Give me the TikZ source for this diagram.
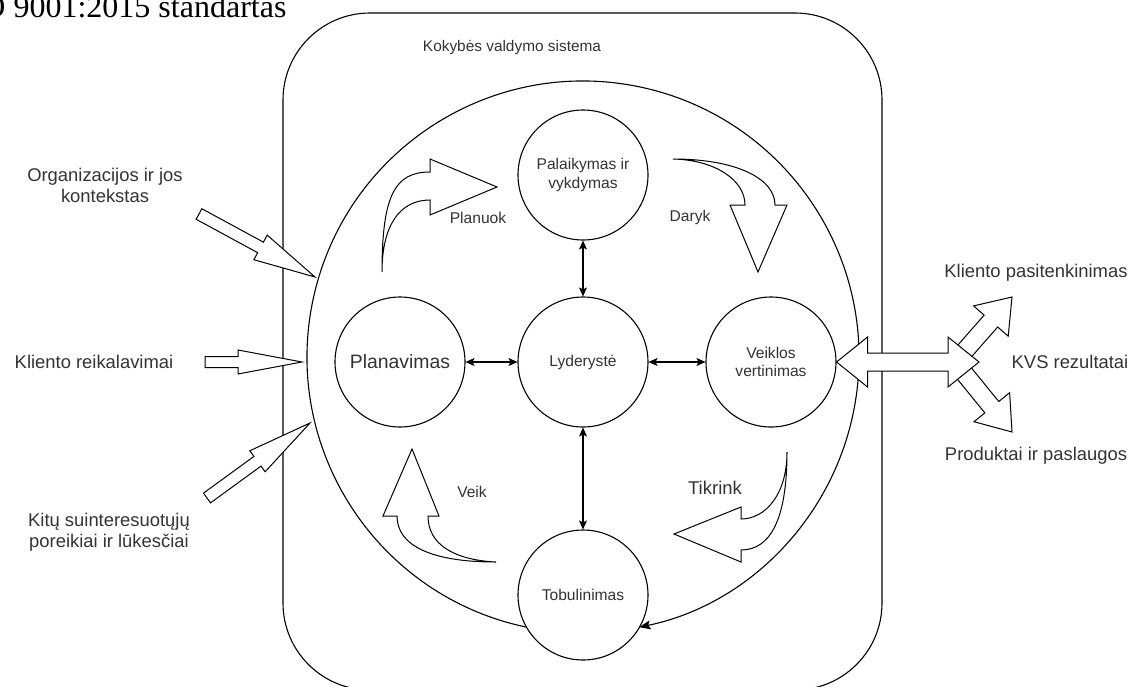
\documentclass[tikz,border=0pt]{standalone}
\usepackage{fontspec}
\setmainfont{Liberation Sans}
\newfontfamily\serifont{Liberation Serif}
\usetikzlibrary{calc,arrows.meta}
\definecolor{txt}{HTML}{333333}
\newcommand\fs[1]{\fontsize{#1}{#1}\selectfont}
% straight block arrow: tail, tip, half shaft width, half head width, head length
\newcommand\blockarrow[5]{%
  \coordinate (ba-b) at ($(#2)!#5!(#1)$);
  \draw[blk] ($(#1)!#3!90:(#2)$) -- ($(ba-b)!#3!90:(#2)$) -- ($(ba-b)!#4!90:(#2)$) -- (#2)
    -- ($(ba-b)!#4!-90:(#2)$) -- ($(ba-b)!#3!-90:(#2)$) -- ($(#1)!#3!-90:(#2)$) -- cycle;}
\begin{document}
\begin{tikzpicture}[x=1pt,y=-1pt,line width=1.1pt,
  circ/.style={circle,draw,minimum size=130pt,inner sep=0pt,text=txt,align=center,font=\fs{15.6}},
  lbl/.style={text=txt,align=center,inner sep=0pt},
  conn/.style={{Stealth[length=9pt,width=8pt,inset=2pt]}-{Stealth[length=9pt,width=8pt,inset=2pt]}},
  blk/.style={draw,fill=white,line join=miter,line width=1pt}]
\useasboundingbox (0,0) rectangle (1136,686);
\clip (0,0) rectangle (1136,686);

% title fragment
\node[anchor=base east,inner sep=0pt,font=\serifont\fontsize{32}{36}\selectfont] (title) at (287,17) {ISO 9001:2015 standartas};

% outer system box
\draw[rounded corners=87pt] (283,13) rectangle (882,690);
\node[lbl,font=\fs{15.4}] (kvs) at (512,48) {Kokybės valdymo sistema};

% process circles
\node[circ] (pal) at (583,175) {Palaikymas ir\\[3pt]vykdymas};
\node[circ] (lyd) at (583,362) {Lyderystė};
\node[circ,font=\fs{19.4}] (plan) at (400,362) {Planavimas};
\node[circ] (veik) at (771,362) {Veiklos\\[3pt]vertinimas};
\node[circ] (tob) at (583,595) {Tobulinimas};

% big cycle circle
\coordinate (bc) at (583,357);
\draw[-{Stealth[length=11pt,width=9pt,inset=2pt]}] ($(bc)+(101.8:276)$) arc[start angle=101.8,end angle=438.2,radius=276];

% leadership connections
\draw[conn] (pal) -- (lyd);
\draw[conn] (plan) -- (lyd);
\draw[conn] (lyd) -- (veik);
\draw[conn] (lyd) -- (tob);

% curved PDCA arrows
\coordinate (pl) at (382,272);
\draw[blk] (pl) .. controls (382,195) and (395,172) .. (430,172) -- (430,159) -- (497,187) -- (430,215) -- (430,200)
  .. controls (400,200) and (382,225) .. (pl) -- cycle;
\coordinate (dr) at (673,159);
\draw[blk] (dr) .. controls (735,159) and (775,178) .. (775,205) -- (787,205) -- (758,272) -- (730,205) -- (745,205)
  .. controls (745,180) and (715,160) .. (dr) -- cycle;
\coordinate (tk) at (787,452);
\draw[blk] (tk) .. controls (787,520) and (770,550) .. (741,550) -- (741,562) -- (674,534) -- (741,507) -- (741,519)
  .. controls (765,519) and (787,495) .. (tk) -- cycle;
\coordinate (vk) at (496,562);
\draw[blk] (vk) .. controls (430,562) and (397,545) .. (397,516) -- (383,516) -- (412,449) -- (439,516) -- (428,516)
  .. controls (428,545) and (455,560) .. (vk) -- cycle;

\node[lbl,font=\fs{15.6}] (planuok) at (478,218) {Planuok};
\node[lbl,font=\fs{15.6}] (daryk) at (690,217) {Daryk};
\node[lbl,font=\fs{15.6}] (veikl) at (472,492) {Veik};
\node[lbl,font=\fs{18.5}] (tikrink) at (715,488) {Tikrink};

% inputs
\node[lbl,font=\fontsize{18.4}{21}\selectfont] (org) at (105,185) {Organizacijos ir jos\\kontekstas};
\node[lbl,font=\fs{18.4}] (kr) at (94,362) {Kliento reikalavimai};
\node[lbl,font=\fontsize{18.4}{21}\selectfont] (kitu) at (109,532) {Kitų suinteresuotųjų\\poreikiai ir lūkesčiai};
\coordinate (a1t) at (199,214); \coordinate (a1h) at (315,277);
\coordinate (a2t) at (205,362); \coordinate (a2h) at (302,362);
\coordinate (a3t) at (207,498); \coordinate (a3h) at (310,423);
\blockarrow{a1t}{a1h}{6pt}{14pt}{62pt}
\blockarrow{a2t}{a2h}{5.5pt}{12pt}{64pt}
\blockarrow{a3t}{a3h}{6pt}{13pt}{65pt}

% outputs
\node[lbl,font=\fs{18.4}] (ks) at (1036,273) {Kliento pasitenkinimas};
\node[lbl,font=\fs{18.4}] (rez) at (1070,362) {KVS rezultatai};
\node[lbl,font=\fs{18.4}] (prod) at (1036,456) {Produktai ir paslaugos};
\coordinate (o0) at (955,362);
\coordinate (o1) at (1012,297);
\coordinate (o2) at (1012,432);
\blockarrow{o0}{o1}{9pt}{23pt}{32pt}
\blockarrow{o0}{o2}{9pt}{23pt}{32pt}
\coordinate (ot) at (979,362);
\draw[blk] (veik.east) -- ($(veik.east)+(31,-25)$) -- ($(veik.east)+(31,-9)$) -- ($(ot)+(-31,-9)$) -- ($(ot)+(-31,-25)$)
  -- (ot) -- ($(ot)+(-31,25)$) -- ($(ot)+(-31,9)$) -- ($(veik.east)+(31,9)$) -- ($(veik.east)+(31,25)$) -- cycle;
\end{tikzpicture}
\end{document}
